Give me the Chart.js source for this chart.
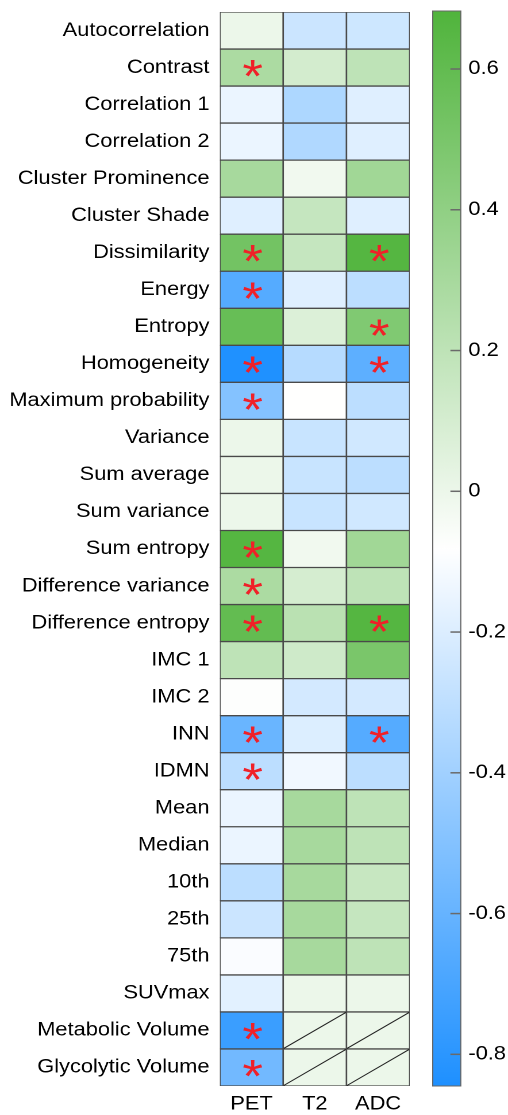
<!DOCTYPE html>
<html><head><meta charset="utf-8">
<script src="https://cdn.jsdelivr.net/npm/chart.js@4/dist/chart.umd.min.js"></script>
<style>
html,body{margin:0;padding:0;background:#fff;overflow:hidden;}
#wrap{width:442px;height:1115px;transform:scaleX(1.1493);transform-origin:0 0;}
</style></head><body>
<div id="wrap"><canvas id="c" width="442" height="1115"></canvas></div>
<script>
const features = ['Autocorrelation','Contrast','Correlation 1','Correlation 2','Cluster Prominence','Cluster Shade','Dissimilarity','Energy','Entropy','Homogeneity','Maximum probability','Variance','Sum average','Sum variance','Sum entropy','Difference variance','Difference entropy','IMC 1','IMC 2','INN','IDMN','Mean','Median','10th','25th','75th','SUVmax','Metabolic Volume','Glycolytic Volume'];
const modalities = ['PET','T2','ADC'];
const petValues = [0.00,0.28,-0.15,-0.15,0.30,-0.19,0.53,-0.66,0.58,-0.84,-0.50,0.00,0.00,0.00,0.66,0.28,0.60,0.20,-0.075,-0.59,-0.31,-0.15,-0.15,-0.31,-0.26,-0.10,-0.18,-0.75,-0.56];
const t2Values = [-0.26,0.11,-0.36,-0.35,-0.02,0.17,0.17,-0.19,0.07,-0.33,-0.08,-0.27,-0.27,-0.27,-0.02,0.10,0.22,0.13,-0.23,-0.20,-0.13,0.30,0.30,0.30,0.30,0.30,0.00,null,null];
const adcValues = [-0.25,0.20,-0.19,-0.19,0.33,-0.19,0.66,-0.31,0.47,-0.63,-0.31,-0.24,-0.31,-0.24,0.33,0.20,0.66,0.50,-0.23,-0.66,-0.31,0.20,0.20,0.16,0.17,0.20,0.00,null,null];
const petSignificant = ['Contrast','Dissimilarity','Energy','Homogeneity','Maximum probability','Sum entropy','Difference variance','Difference entropy','INN','IDMN','Metabolic Volume','Glycolytic Volume'];
const t2Significant = [];
const adcSignificant = ['Dissimilarity','Entropy','Homogeneity','Difference entropy','INN'];
const colorMin = -0.845, colorMax = 0.681;
const colorbarTicks = [-0.8,-0.6,-0.4,-0.2,0,0.2,0.4,0.6];
const colorbarTickLabels = ['-0.8','-0.6','-0.4','-0.2','0','0.2','0.4','0.6'];

const valuesByModality = [petValues, t2Values, adcValues];
const sigByModality = [petSignificant, t2Significant, adcSignificant];
const BLUE=[30,144,255], WHITE=[255,255,255], GREEN=[80,180,60];
function mix(a,b,t){return 'rgb('+a.map((x,i)=>Math.round(x+(b[i]-x)*t)).join(',')+')';}
function colorFor(v){
  if(v===null||v===undefined) v=0;
  const mid=(colorMin+colorMax)/2;
  if(v>=mid){return mix(WHITE,GREEN,Math.min(1,(v-mid)/(colorMax-mid)));}
  return mix(WHITE,BLUE,Math.min(1,(mid-v)/(mid-colorMin)));
}
const FONT={family:"'Liberation Sans', Arial, sans-serif", size:19};
const W=442;
const AREA_LEFT=191.3, AREA_RIGHT=356.5;
function noPad(s){s.paddingTop=0;s.paddingBottom=0;s.paddingLeft=0;s.paddingRight=0;}

const overlay={
  id:'overlay',
  afterDatasetsDraw(chart){
    const ctx=chart.ctx, area=chart.chartArea, cb=chart.scales.cb;
    ctx.save();
    valuesByModality.forEach((vals,j)=>{
      const meta=chart.getDatasetMeta(j);
      vals.forEach((v,i)=>{
        const el=meta.data[i];
        const x0=Math.min(el.base,el.x), x1=Math.max(el.base,el.x);
        const y0=el.y-el.height/2, y1=el.y+el.height/2;
        if(v===null){
          ctx.beginPath();ctx.strokeStyle='#222';ctx.lineWidth=1;
          ctx.moveTo(x0+0.5,y1-0.5);ctx.lineTo(x1-0.5,y0+0.5);ctx.stroke();
        }
        if(sigByModality[j].includes(features[i])){
          ctx.font="46px 'Liberation Sans', Arial, sans-serif";
          ctx.fillStyle='#f02028';ctx.textAlign='left';ctx.textBaseline='alphabetic';
          const m=ctx.measureText('*');
          const gw=m.actualBoundingBoxRight+m.actualBoundingBoxLeft;
          const gh=m.actualBoundingBoxAscent+m.actualBoundingBoxDescent;
          const cx=(x0+x1)/2+1, cy=el.y+1;
          ctx.fillText('*', cx-gw/2+m.actualBoundingBoxLeft, cy-gh/2+m.actualBoundingBoxAscent);
        }
      });
    });
    const top=cb.getPixelForValue(colorMax)-1, bot=cb.getPixelForValue(colorMin);
    const bx0=area.right+20, bx1=area.right+44.4;
    const g=ctx.createLinearGradient(0,bot,0,top);
    g.addColorStop(0,mix(BLUE,BLUE,0));g.addColorStop(0.5,mix(WHITE,WHITE,0));g.addColorStop(1,mix(GREEN,GREEN,0));
    ctx.fillStyle=g;ctx.fillRect(bx0,top,bx1-bx0,bot-top);
    ctx.strokeStyle='#666';ctx.lineWidth=1;ctx.strokeRect(bx0,top,bx1-bx0,bot-top);
    ctx.strokeStyle='#6a6a6a';ctx.lineWidth=1.5;
    colorbarTicks.forEach(t=>{const y=cb.getPixelForValue(t);ctx.beginPath();ctx.moveTo(bx1-9,y);ctx.lineTo(bx1,y);ctx.stroke();});
    ctx.restore();
  }
};

new Chart(document.getElementById('c'),{
  type:'bar',
  data:{
    labels:features,
    datasets:modalities.map((m,j)=>({
      label:m,
      data:features.map(()=>1),
      backgroundColor:valuesByModality[j].map(colorFor),
      borderColor:'#4a4a4a',borderWidth:1,borderSkipped:false,
      barPercentage:1,categoryPercentage:1,stack:'s'
    }))
  },
  options:{
    indexAxis:'y',responsive:false,animation:false,devicePixelRatio:2,
    layout:{padding:{top:12,left:0,right:0,bottom:0}},
    plugins:{legend:{display:false},tooltip:{enabled:false}},
    scales:{
      x:{type:'linear',min:0,max:3,stacked:true,position:'bottom',offset:false,
        grid:{display:false,drawTicks:false},border:{display:false},
        afterBuildTicks:s=>{s.ticks=modalities.map((m,i)=>({value:i+0.5}));},
        ticks:{callback:(v,i)=>modalities[i],padding:7,font:FONT,color:'#000',autoSkip:false,maxRotation:0},
        afterFit:s=>{s.height=29;noPad(s);}},
      y:{type:'category',stacked:true,
        grid:{display:false,drawTicks:false},border:{display:false},
        ticks:{padding:9,font:FONT,color:'#000',autoSkip:false},
        afterFit:s=>{s.width=AREA_LEFT;noPad(s);}},
      cb:{type:'linear',axis:'y',position:'right',min:colorMin,max:colorMax,offset:false,
        grid:{display:false,drawTicks:false,offset:false},border:{display:false},
        afterBuildTicks:s=>{s.ticks=colorbarTicks.map(v=>({value:v}));},
        ticks:{callback:(v,i)=>colorbarTickLabels[i],padding:51,font:FONT,color:'#000'},
        afterFit:s=>{s.width=W-AREA_RIGHT;noPad(s);}}
    }
  },
  plugins:[overlay]
});
</script>
</body></html>
